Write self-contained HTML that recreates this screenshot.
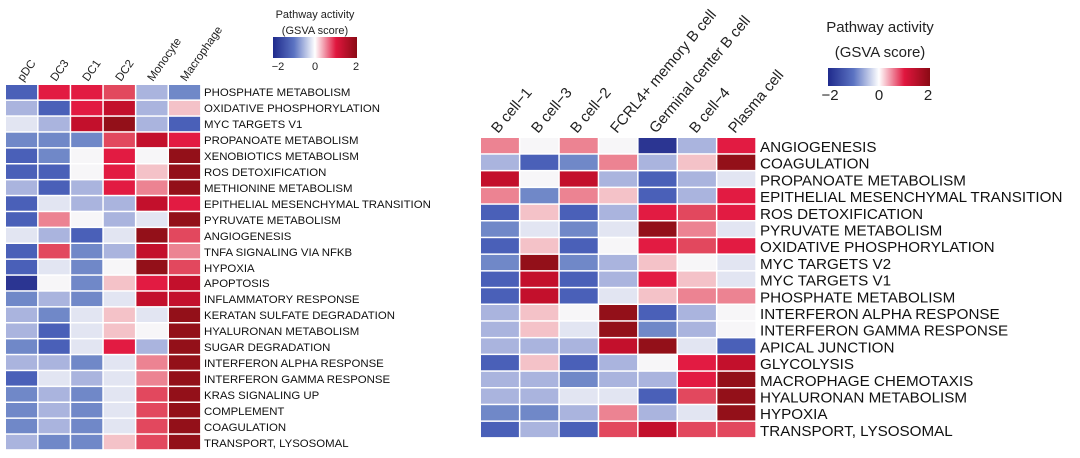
<!DOCTYPE html>
<html><head><meta charset="utf-8"><style>
html,body{margin:0;padding:0;background:#fff;}
svg{display:block;font-family:"Liberation Sans",Arial,sans-serif;}
</style></head><body>
<svg id="s" width="1080" height="458" viewBox="0 0 1080 458" xmlns="http://www.w3.org/2000/svg">
<defs>
<linearGradient id="g" x1="0" x2="1" y1="0" y2="0">
<stop offset="0" stop-color="#1f2a8c"/><stop offset="0.25" stop-color="#5b73c2"/><stop offset="0.5" stop-color="#ffffff"/><stop offset="0.75" stop-color="#e0163e"/><stop offset="1" stop-color="#8a0a14"/>
</linearGradient>
</defs>
<g id="L"></g><g id="R"></g>
<text x="315" y="18" font-size="11" text-anchor="middle" fill="#222">Pathway activity</text>
<text x="315" y="34" font-size="11" text-anchor="middle" fill="#222">(GSVA score)</text>
<rect x="273" y="37" width="84" height="21" fill="url(#g)"/>
<text x="278" y="70" font-size="11" text-anchor="middle" fill="#222">−2</text>
<text x="315" y="70" font-size="11" text-anchor="middle" fill="#222">0</text>
<text x="356" y="70" font-size="11" text-anchor="middle" fill="#222">2</text>
<text x="880" y="32" font-size="15" text-anchor="middle" fill="#222">Pathway activity</text>
<text x="880" y="57" font-size="15" text-anchor="middle" fill="#222">(GSVA score)</text>
<rect x="828" y="68" width="102" height="18" fill="url(#g)"/>
<text x="830" y="100" font-size="15" text-anchor="middle" fill="#222">−2</text>
<text x="879" y="100" font-size="15" text-anchor="middle" fill="#222">0</text>
<text x="928" y="100" font-size="15" text-anchor="middle" fill="#222">2</text>
<g font-size="11.5" fill="#222">
<text transform="translate(23,82) rotate(-55)">pDC</text>
<text transform="translate(56,82) rotate(-55)">DC3</text>
<text transform="translate(88,82) rotate(-55)">DC1</text>
<text transform="translate(121,82) rotate(-55)">DC2</text>
<text transform="translate(153,82) rotate(-55)">Monocyte</text>
<text transform="translate(186,82) rotate(-55)">Macrophage</text>
</g>
<g font-size="15" fill="#222">
<text transform="translate(498,134) rotate(-50)">B cell−1</text>
<text transform="translate(538,134) rotate(-50)">B cell−3</text>
<text transform="translate(577,134) rotate(-50)">B cell−2</text>
<text transform="translate(617,134) rotate(-50)">FCRL4+ memory B cell</text>
<text transform="translate(656,134) rotate(-50)">Germinal center B cell</text>
<text transform="translate(696,134) rotate(-50)">B cell−4</text>
<text transform="translate(735,134) rotate(-50)">Plasma cell</text>
</g>
<g font-size="11.4" fill="#111">
<text x="204" y="96">PHOSPHATE METABOLISM</text>
<text x="204" y="112">OXIDATIVE PHOSPHORYLATION</text>
<text x="204" y="128">MYC TARGETS V1</text>
<text x="204" y="144">PROPANOATE METABOLISM</text>
<text x="204" y="160">XENOBIOTICS METABOLISM</text>
<text x="204" y="176">ROS DETOXIFICATION</text>
<text x="204" y="192">METHIONINE METABOLISM</text>
<text x="204" y="208">EPITHELIAL MESENCHYMAL TRANSITION</text>
<text x="204" y="224">PYRUVATE METABOLISM</text>
<text x="204" y="240">ANGIOGENESIS</text>
<text x="204" y="256">TNFA SIGNALING VIA NFKB</text>
<text x="204" y="272">HYPOXIA</text>
<text x="204" y="287">APOPTOSIS</text>
<text x="204" y="303">INFLAMMATORY RESPONSE</text>
<text x="204" y="319">KERATAN SULFATE DEGRADATION</text>
<text x="204" y="335">HYALURONAN METABOLISM</text>
<text x="204" y="351">SUGAR DEGRADATION</text>
<text x="204" y="367">INTERFERON ALPHA RESPONSE</text>
<text x="204" y="383">INTERFERON GAMMA RESPONSE</text>
<text x="204" y="399">KRAS SIGNALING UP</text>
<text x="204" y="415">COMPLEMENT</text>
<text x="204" y="431">COAGULATION</text>
<text x="204" y="447">TRANSPORT, LYSOSOMAL</text>
</g>
<g font-size="15.2" fill="#111">
<text x="760" y="152">ANGIOGENESIS</text>
<text x="760" y="168.7">COAGULATION</text>
<text x="760" y="185.4">PROPANOATE METABOLISM</text>
<text x="760" y="202.1">EPITHELIAL MESENCHYMAL TRANSITION</text>
<text x="760" y="218.8">ROS DETOXIFICATION</text>
<text x="760" y="235.5">PYRUVATE METABOLISM</text>
<text x="760" y="252.2">OXIDATIVE PHOSPHORYLATION</text>
<text x="760" y="268.9">MYC TARGETS V2</text>
<text x="760" y="285.6">MYC TARGETS V1</text>
<text x="760" y="302.3">PHOSPHATE METABOLISM</text>
<text x="760" y="319">INTERFERON ALPHA RESPONSE</text>
<text x="760" y="335.7">INTERFERON GAMMA RESPONSE</text>
<text x="760" y="352.4">APICAL JUNCTION</text>
<text x="760" y="369.1">GLYCOLYSIS</text>
<text x="760" y="385.8">MACROPHAGE CHEMOTAXIS</text>
<text x="760" y="402.5">HYALURONAN METABOLISM</text>
<text x="760" y="419.2">HYPOXIA</text>
<text x="760" y="435.9">TRANSPORT, LYSOSOMAL</text>
</g>
</svg>
<script>
var C={D:"#2b3592",B:"#4a60b8",b:"#7088c8",l:"#aab4de",w:"#e2e5f2",W:"#f7f6f8",p:"#f4c2c8",P:"#ec8392",M:"#e2485e",r:"#e21b42",R:"#c3102c",K:"#931019"};
var left=["BrrMlb","lBrRlp","wlRKlB","bbbMRr","BbWrWK","BBWrpK","lBlrPK","BwllRr","BPWlwK","wlBwKM","BMblRP","BwbWKM","DWbprR","blbwRR","lbwpwK","lBwpWK","bBwrlK","llbwPK","BwlwPK","blbwMK","blbwMK","blbwMK","lbbpMK"];
var right=["PWPWDlr","lBbPlpK","RWRlBlw","PbPpBlr","BpBlrMr","bwbwKPw","BpBWrMr","bKblpWw","BRBlrpw","BRBwpPP","lpWKBlW","lpwKblW","lllRKwB","BpBlWrR","llbllrK","llwwBMK","bblPlwK","BlBMRMM"];
function draw(id,data,x0,y0,cw,rh){var g=document.getElementById(id),s="";
data.forEach(function(row,i){for(var j=0;j<row.length;j++){s+='<rect x="'+(x0+j*cw)+'" y="'+(y0+i*rh)+'" width="'+(cw-1.5)+'" height="'+(rh-1.5)+'" fill="'+C[row[j]]+'"/>';}});
g.innerHTML=s;}
draw("L",left,6,85,32.6,15.9);
draw("R",right,481,138,39.4,16.7);
</script>
</body></html>
